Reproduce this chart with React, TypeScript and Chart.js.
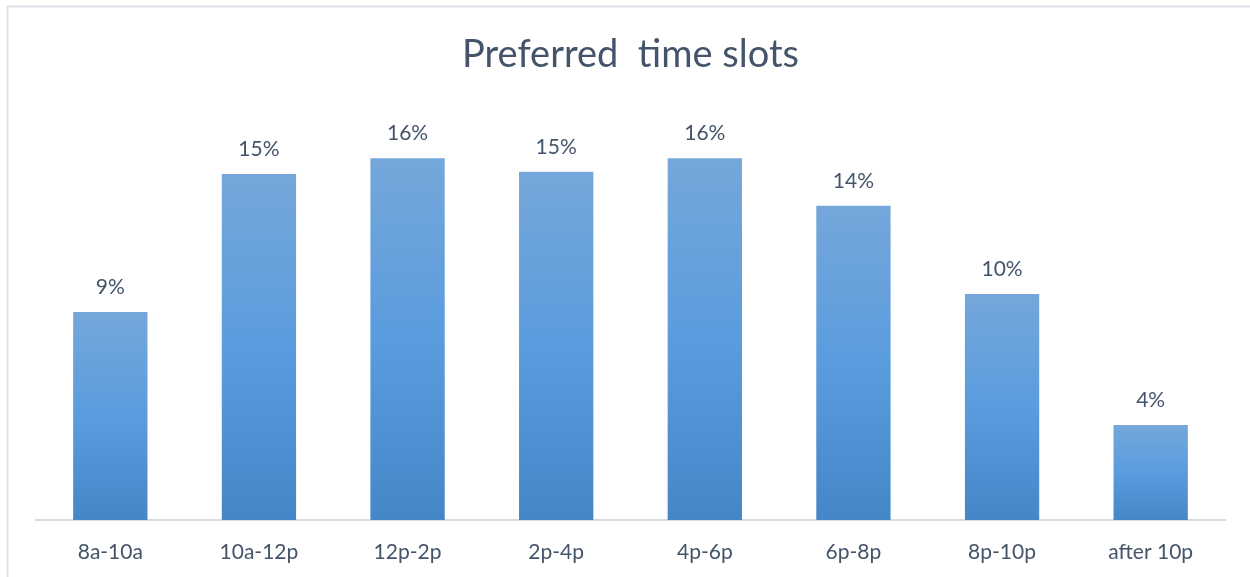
import React, { useEffect, useRef } from "react";
import { Chart, registerables } from "chart.js";

Chart.register(...registerables);

// Share of respondents per preferred time slot (percent)
const slots = ["8a-10a", "10a-12p", "12p-2p", "2p-4p", "4p-6p", "6p-8p", "8p-10p", "after 10p"];
const shares = [9.2, 15.3, 16.0, 15.4, 16.0, 13.9, 10.0, 4.2];
const chartTitle = "Preferred  time slots";

const TEXT = "#44546A";
const FONT = "Lato, 'Open Sans', sans-serif";

// Light frame around the chart area (top and left edges)
const framePlugin = {
  id: "frame",
  beforeDraw(chart: any) {
    const c = chart.ctx;
    c.save();
    c.fillStyle = "#ffffff";
    c.fillRect(0, 0, chart.width, chart.height);
    c.strokeStyle = "#DDE2E8";
    c.lineWidth = 2;
    c.beginPath();
    c.moveTo(chart.width, 6.5);
    c.lineTo(7.5, 6.5);
    c.lineTo(7.5, chart.height);
    c.stroke();
    c.restore();
  },
};

// Percent labels drawn above every bar
const valueLabels = {
  id: "valueLabels",
  afterDatasetsDraw(chart: any) {
    const c = chart.ctx;
    const meta = chart.getDatasetMeta(0);
    c.save();
    c.font = `21px ${FONT}`;
    c.fillStyle = TEXT;
    c.textAlign = "center";
    c.textBaseline = "alphabetic";
    meta.data.forEach((bar: any, i: number) => {
      const v = chart.data.datasets[0].data[i] as number;
      c.fillText(`${Math.round(v)}%`, bar.x, bar.y - 18);
    });
    c.restore();
  },
};

function barGradient(ctx: any) {
  const chart = ctx.chart;
  const { chartArea, scales } = chart;
  if (!chartArea || !scales.y) return "#5B9BD5";
  const top = scales.y.getPixelForValue(ctx.raw);
  const bottom = scales.y.getPixelForValue(0);
  const g = chart.ctx.createLinearGradient(0, top, 0, bottom);
  g.addColorStop(0, "#75A7DA");
  g.addColorStop(0.5, "#5A9CDE");
  g.addColorStop(1, "#4486C6");
  return g;
}

export default function App() {
  const ref = useRef<HTMLCanvasElement>(null);

  useEffect(() => {
    if (!ref.current) return;
    const chart = new Chart(ref.current, {
      type: "bar",
      data: {
        labels: slots,
        datasets: [
          {
            data: shares,
            backgroundColor: barGradient,
            borderWidth: 0,
            categoryPercentage: 1,
            barPercentage: 0.5,
          },
        ],
      },
      options: {
        responsive: false,
        animation: false,
        devicePixelRatio: 1,
        layout: { padding: { left: 36, right: 25, top: 0, bottom: 0 } },
        plugins: {
          legend: { display: false },
          tooltip: { enabled: false },
          title: {
            display: true,
            text: chartTitle,
            color: TEXT,
            font: { family: FONT, size: 38, weight: "normal" },
            padding: { top: 32, bottom: 35.4 },
          },
        },
        scales: {
          x: {
            grid: { display: false, drawTicks: false },
            border: { display: true, color: "#D6DCE4", width: 2 },
            ticks: {
              color: TEXT,
              font: { family: FONT, size: 21 },
              padding: 20,
              maxRotation: 0,
            },
            afterFit(scale: any) {
              scale.height = 57;
            },
          },
          y: {
            display: false,
            min: 0,
            max: 18,
          },
        },
      },
      plugins: [framePlugin, valueLabels],
    });
    return () => chart.destroy();
  }, []);

  return (
    <div>
      <style>{"body{margin:0}"}</style>
      <canvas ref={ref} width={1250} height={577} style={{ display: "block" }} />
    </div>
  );
}
